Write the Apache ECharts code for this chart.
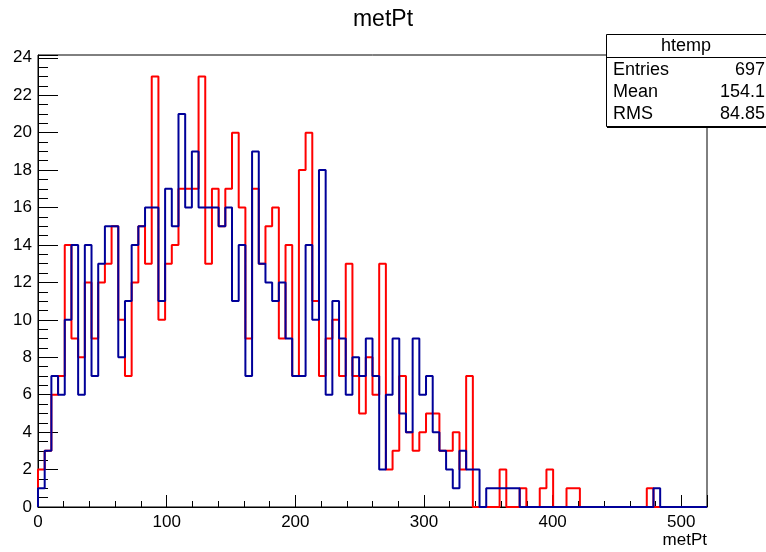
<!DOCTYPE html>
<html><head><meta charset="utf-8">
<script src="https://cdn.jsdelivr.net/npm/echarts@6/dist/echarts.min.js"></script>
<style>html,body{margin:0;padding:0;background:#fff}#c{width:766px;height:552px}</style>
</head><body><div id="c"></div>
<script>
// Histogram definition: 100 bins over [0, 520]
const xMin = 0;
const xMax = 520;
const yMax = 24.15;

// red histogram (htemp) counts per bin
const redCounts = [
  2, 3, 6, 7, 14, 9, 8, 12, 9, 12,
  13, 15, 10, 7, 12, 15, 13, 23, 10, 13,
  14, 17, 17, 17, 23, 13, 17, 15, 17, 20,
  16, 9, 17, 13, 15, 16, 9, 14, 7, 18,
  20, 11, 7, 9, 10, 7, 13, 7, 5, 8,
  6, 13, 2, 3, 7, 4, 3, 4, 5, 5,
  3, 3, 4, 2, 7, 0, 0, 0, 0, 2,
  0, 0, 1, 0, 0, 1, 2, 0, 0, 1,
  1, 0, 0, 0, 0, 0, 0, 0, 0, 0,
  0, 1, 0, 0, 0, 0, 0, 0, 0, 0
];
// blue histogram counts per bin
const blueCounts = [
  1, 3, 7, 6, 10, 14, 6, 14, 7, 13,
  15, 15, 8, 11, 14, 15, 16, 16, 11, 17,
  15, 21, 16, 19, 16, 16, 16, 15, 16, 11,
  14, 7, 19, 13, 12, 11, 12, 9, 7, 7,
  14, 10, 18, 6, 11, 9, 6, 8, 7, 9,
  7, 2, 6, 9, 5, 4, 9, 6, 7, 4,
  3, 2, 1, 3, 2, 2, 0, 1, 1, 1,
  1, 1, 0, 0, 0, 0, 0, 0, 0, 0,
  0, 0, 0, 0, 0, 0, 0, 0, 0, 0,
  0, 0, 1, 0, 0, 0, 0, 0, 0, 0
];

const xTickLabels = [0, 100, 200, 300, 400, 500];
const yTickLabels = [0, 2, 4, 6, 8, 10, 12, 14, 16, 18, 20, 22, 24];
const titleText = 'metPt';
const xAxisTitle = 'metPt';
const statsName = 'htemp';
const statsLabels = ['Entries', 'Mean', 'RMS'];
const statsValues = ['697', '154.1', '84.85'];

const FONT = '"Liberation Sans", Arial, Helvetica, sans-serif';

function stepData(counts) {
  const w = (xMax - xMin) / counts.length;
  const d = [[xMin, 0]];
  counts.forEach((v, i) => d.push([xMin + i * w, v]));
  d.push([xMax, counts[counts.length - 1]]);
  return d;
}

const chart = echarts.init(document.getElementById('c'), null, {renderer: 'canvas'});

const gridL = 38, gridT = 55, gridR = 59, gridB = 45;

const statsRowsY = [70, 92, 114];
const graphics = [
  {type: 'rect', z: 100, shape: {x: 606.5, y: 34.5, width: 170, height: 92},
   style: {fill: '#fff', stroke: '#000', lineWidth: 1}},
  {type: 'line', z: 101, shape: {x1: 607, y1: 127.5, x2: 770, y2: 127.5},
   style: {stroke: '#000', lineWidth: 1}},
  {type: 'line', z: 101, shape: {x1: 606, y1: 57.5, x2: 770, y2: 57.5},
   style: {stroke: '#000', lineWidth: 1}},
  {type: 'text', z: 102, x: 686, y: 46,
   style: {text: statsName, font: '18px ' + FONT, fill: '#000', align: 'center', verticalAlign: 'middle'}},
  {type: 'text', z: 102, right: 59, top: 532,
   style: {text: xAxisTitle, font: '17px ' + FONT, fill: '#000'}}
];
statsLabels.forEach((lab, i) => {
  graphics.push({type: 'text', z: 102, x: 613, y: statsRowsY[i],
    style: {text: lab, font: '18px ' + FONT, fill: '#000', align: 'left', verticalAlign: 'middle'}});
  graphics.push({type: 'text', z: 102, x: 765, y: statsRowsY[i],
    style: {text: statsValues[i], font: '18px ' + FONT, fill: '#000', align: 'right', verticalAlign: 'middle'}});
});

chart.setOption({
  animation: false,
  backgroundColor: '#fff',
  title: {
    text: titleText, left: 'center', top: 3,
    textStyle: {fontFamily: FONT, fontSize: 23, fontWeight: 'normal', color: '#000'}
  },
  grid: {left: gridL, top: gridT, right: gridR, bottom: gridB, show: true,
         borderColor: '#000', borderWidth: 1, backgroundColor: 'transparent'},
  xAxis: {
    type: 'value', min: xMin, max: xMax, interval: 100,
    axisLine: {show: true, onZero: false, lineStyle: {color: '#000', width: 1}},
    axisTick: {show: true, inside: true, length: 12, lineStyle: {color: '#000'}},
    minorTick: {show: true, splitNumber: 5, length: 6, lineStyle: {color: '#000'}},
    splitLine: {show: false},
    axisLabel: {
      margin: 7, fontFamily: FONT, fontSize: 17, color: '#000',
      showMaxLabel: true,
      formatter: v => xTickLabels.indexOf(v) >= 0 ? String(v) : ''
    }
  },
  yAxis: {
    type: 'value', min: 0, max: yMax, interval: 2,
    axisLine: {show: true, onZero: false, lineStyle: {color: '#000', width: 1}},
    axisTick: {show: true, inside: true, length: 20, lineStyle: {color: '#000'}},
    minorTick: {show: true, splitNumber: 4, length: 10, lineStyle: {color: '#000'}},
    splitLine: {show: false},
    axisLabel: {
      margin: 6, fontFamily: FONT, fontSize: 17, color: '#000',
      formatter: v => yTickLabels.indexOf(v) >= 0 ? String(v) : ''
    }
  },
  series: [
    {type: 'line', name: 'red', data: stepData(redCounts), step: 'end', symbol: 'none',
     lineStyle: {color: '#ff0000', width: 2}, z: 2},
    {type: 'line', name: 'blue', data: stepData(blueCounts), step: 'end', symbol: 'none',
     lineStyle: {color: '#000099', width: 2}, z: 3}
  ],
  graphic: graphics
});
</script>
</body></html>
